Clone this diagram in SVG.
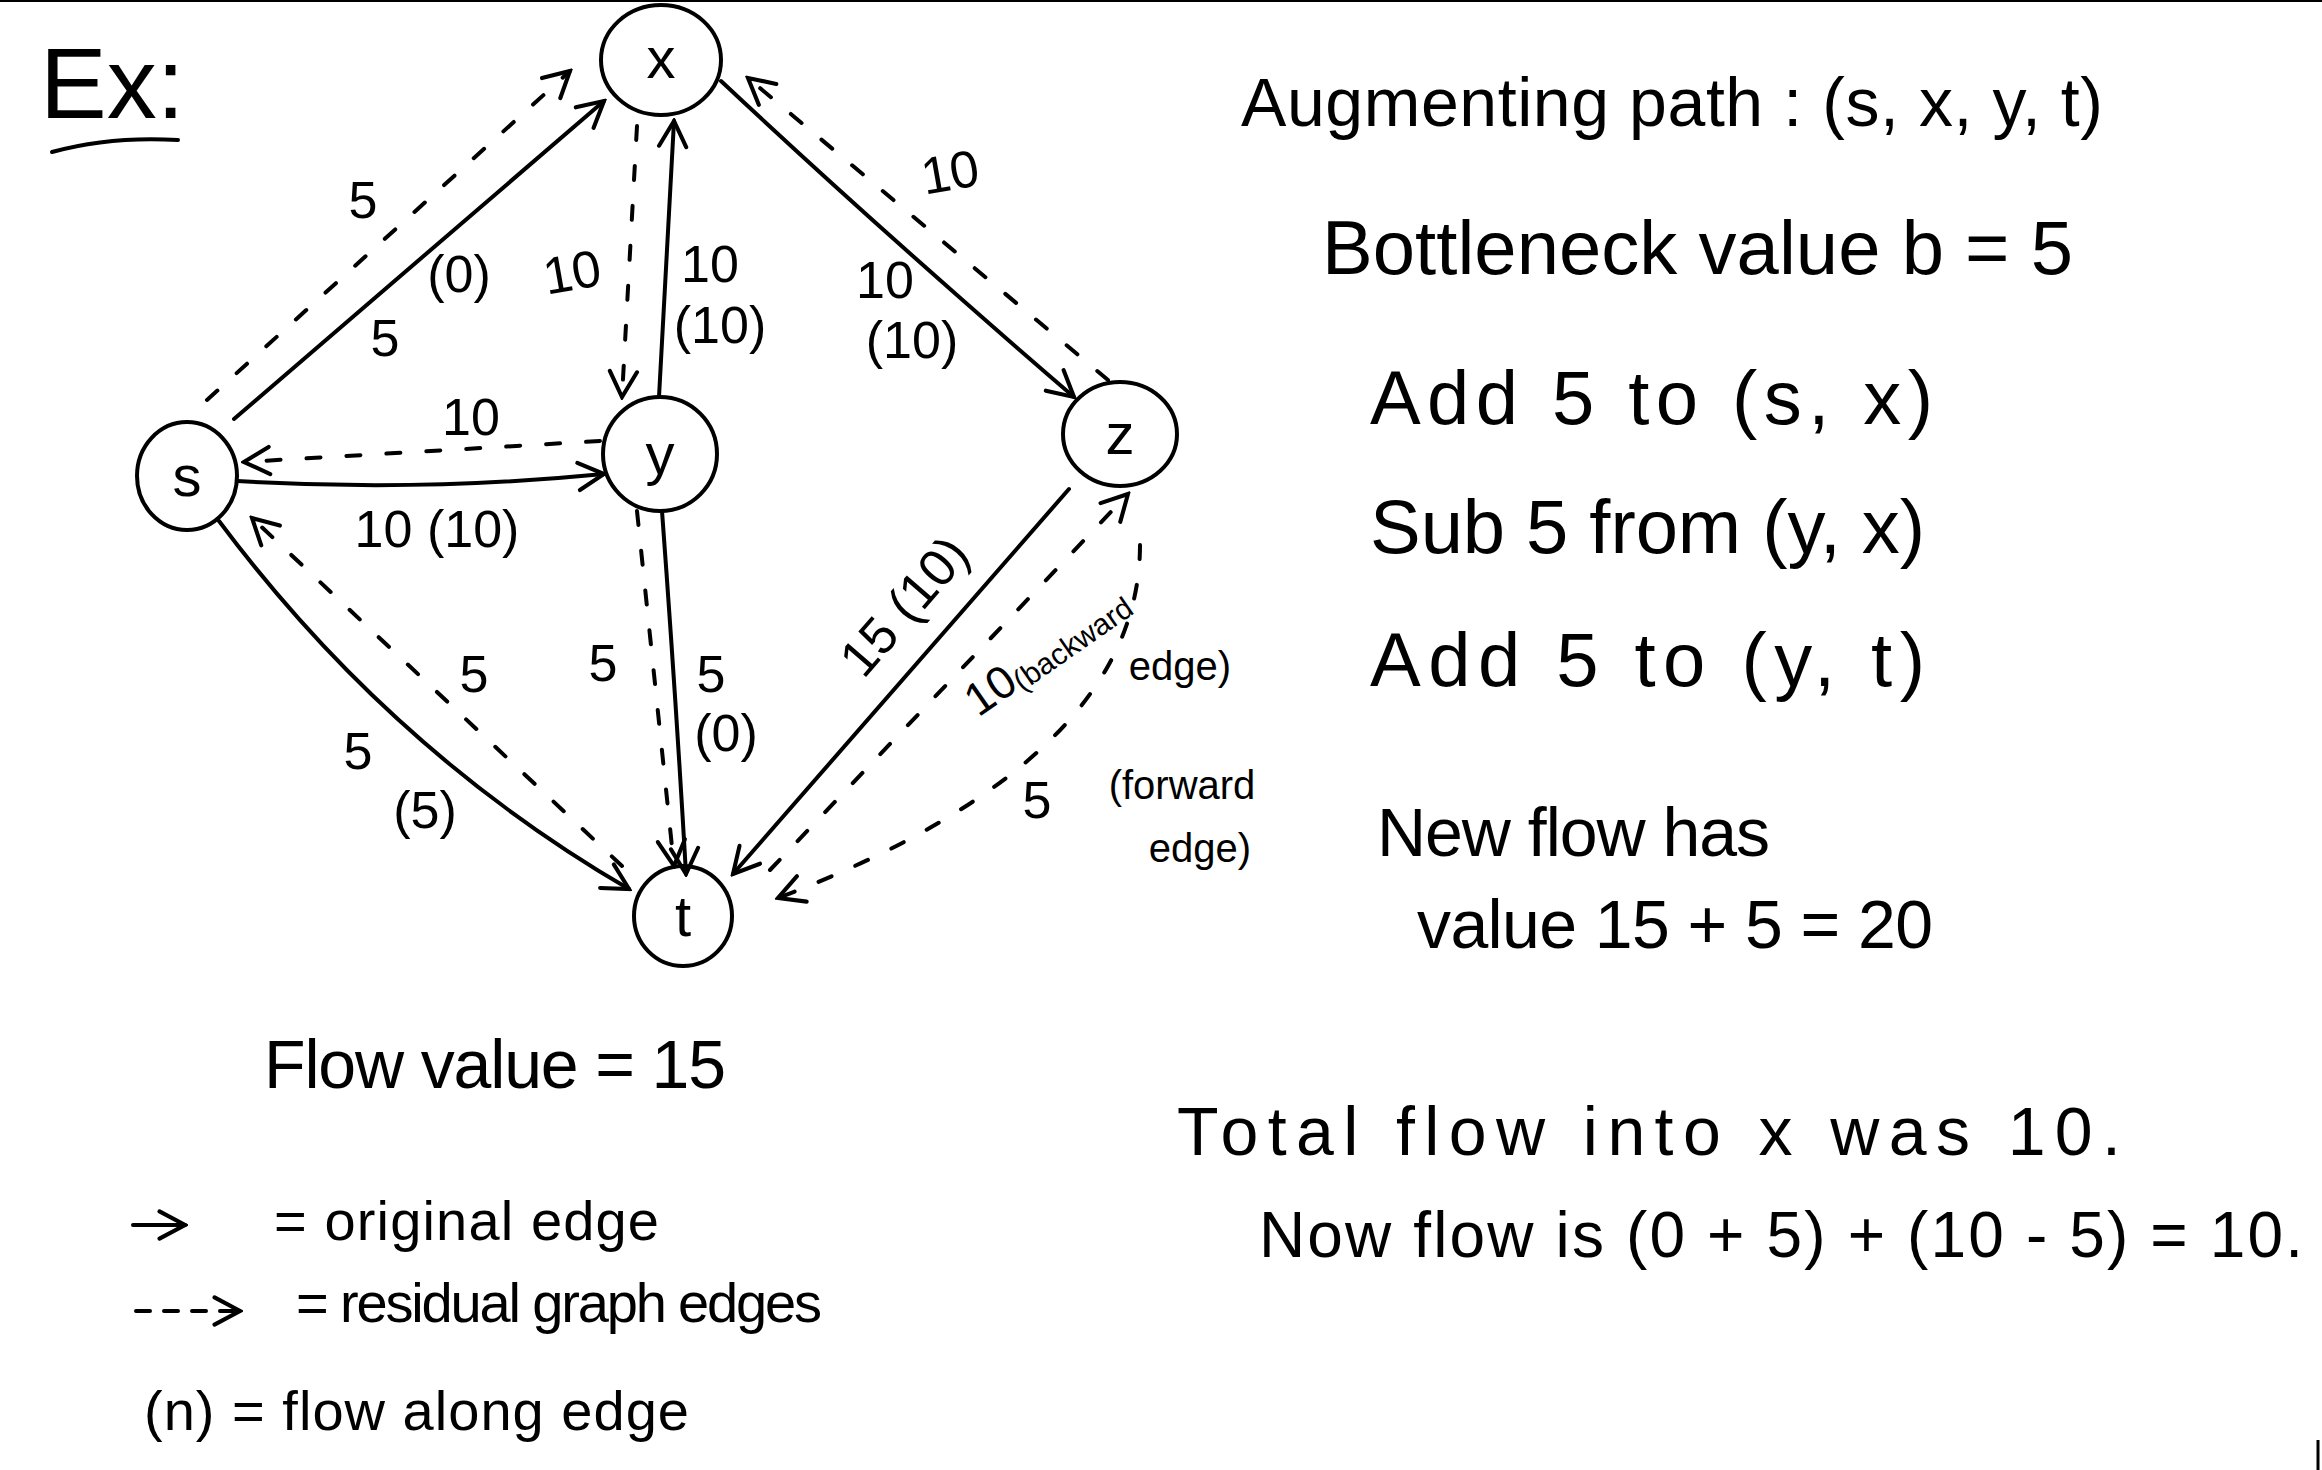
<svg xmlns="http://www.w3.org/2000/svg" width="2322" height="1470" viewBox="0 0 2322 1470">
<style>
text{font-family:"Liberation Sans","DejaVu Sans",sans-serif;fill:#000}
.node ellipse{fill:none;stroke:#000;stroke-width:4}
.nl{font-size:58px;text-anchor:middle}
.e{fill:none;stroke:#000;stroke-width:4;stroke-linecap:round}
.d{fill:none;stroke:#000;stroke-width:4;stroke-linecap:round;stroke-dasharray:14 26}
.lb{font-size:52px;text-anchor:middle}
.sm{font-size:40px;text-anchor:middle}
.t{font-size:68px}
.t2{font-size:76px}
.lg{font-size:56px}
</style>
<defs>
<marker id="ah" viewBox="0 0 20 20" refX="18" refY="10" markerWidth="34" markerHeight="34" markerUnits="userSpaceOnUse" orient="auto">
<path d="M3,2 L18,10 L3,18" fill="none" stroke="#000" stroke-width="2.4" stroke-linecap="round"/>
</marker>
</defs>
<rect width="2322" height="1470" fill="#fff"/>
<line x1="0" y1="1" x2="2322" y2="1" stroke="#000" stroke-width="2"/>
<line x1="2318" y1="1440" x2="2318" y2="1470" stroke="#000" stroke-width="3"/>

<!-- Title -->
<text x="40" y="118" font-size="100">Ex:</text>
<path d="M52,152 Q110,136 178,140" class="e"/>

<!-- Connectors -->
<g id="connectors">
<!-- solid original edges -->
<path class="e" d="M234,419 L604,101" marker-end="url(#ah)"/>
<path class="e" d="M659,397 L674,121" marker-end="url(#ah)"/>
<path class="e" d="M721,81 Q880,230 1074,397" marker-end="url(#ah)"/>
<path class="e" d="M237,481 Q420,492 604,474" marker-end="url(#ah)"/>
<path class="e" d="M662,511 Q676,700 686,874" marker-end="url(#ah)"/>
<path class="e" d="M219,521 Q390,750 629,889" marker-end="url(#ah)"/>
<path class="e" d="M1069,489 L733,874" marker-end="url(#ah)"/>
<!-- dashed residual edges -->
<path class="d" d="M207,400 L570,71" marker-end="url(#ah)"/>
<path class="d" d="M637,126 L622,397" marker-end="url(#ah)"/>
<path class="d" d="M1108,380 L748,78" marker-end="url(#ah)"/>
<path class="d" d="M600,441 L244,462" marker-end="url(#ah)"/>
<path class="d" d="M622,866 L252,518" marker-end="url(#ah)"/>
<path class="d" d="M637,511 L674,866" marker-end="url(#ah)"/>
<path class="d" d="M770,870 L1128,494" marker-end="url(#ah)"/>
<path class="d" d="M1140,545 Q1140,760 778,898" marker-end="url(#ah)"/>
</g>

<!-- Nodes -->
<g id="node-x" class="node"><ellipse cx="661" cy="60" rx="60" ry="55"/><text class="nl" x="661" y="78">x</text></g>
<g id="node-s" class="node"><ellipse cx="187" cy="476" rx="50" ry="54"/><text class="nl" x="187" y="496">s</text></g>
<g id="node-y" class="node"><ellipse cx="660" cy="454" rx="57" ry="57"/><text class="nl" x="660" y="474">y</text></g>
<g id="node-z" class="node"><ellipse cx="1120" cy="434" rx="57" ry="52"/><text class="nl" x="1120" y="454">z</text></g>
<g id="node-t" class="node"><ellipse cx="683" cy="916" rx="49" ry="50"/><text class="nl" x="683" y="936">t</text></g>

<!-- Edge labels -->
<g id="edge-labels">
<text class="lb" x="363" y="218">5</text>
<text class="lb" x="459" y="292">(0)</text>
<text class="lb" x="385" y="356">5</text>
<text class="lb" x="572" y="290" transform="rotate(-10 572 272)">10</text>
<text class="lb" x="710" y="282">10</text>
<text class="lb" x="720" y="343">(10)</text>
<text class="lb" x="950" y="190" transform="rotate(-10 950 172)">10</text>
<text class="lb" x="885" y="298">10</text>
<text class="lb" x="912" y="358">(10)</text>
<text class="lb" x="471" y="435">10</text>
<text class="lb" x="437" y="547">10 (10)</text>
<text class="lb" x="474" y="692">5</text>
<text class="lb" x="358" y="769">5</text>
<text class="lb" x="425" y="828">(5)</text>
<text class="lb" x="603" y="681">5</text>
<text class="lb" x="711" y="692">5</text>
<text class="lb" x="726" y="751">(0)</text>
<text class="lb" x="904" y="624" transform="rotate(-49 904 606)">15 (10)</text>
<text font-size="46" text-anchor="middle" x="990" y="706" transform="rotate(-35 990 690)">10</text>
<text font-size="30" x="1022" y="692" transform="rotate(-35 1022 692)">(backward</text>
<text class="sm" x="1180" y="680">edge)</text>
<text class="lb" x="1037" y="818">5</text>
<text class="sm" x="1182" y="799">(forward</text>
<text class="sm" x="1200" y="862">edge)</text>
</g>

<!-- Right side notes -->
<g id="notes">
<text class="t" x="1241" y="126" textLength="862" lengthAdjust="spacing">Augmenting path : (s, x, y, t)</text>
<text class="t2" x="1322" y="274" textLength="751" lengthAdjust="spacing">Bottleneck value b = 5</text>
<text class="t2" x="1370" y="424" textLength="563" lengthAdjust="spacing">Add 5 to (s, x)</text>
<text class="t2" x="1370" y="553" textLength="555" lengthAdjust="spacing">Sub 5 from (y, x)</text>
<text class="t2" x="1370" y="686" textLength="555" lengthAdjust="spacing">Add 5 to (y, t)</text>
<text class="t" x="1377" y="856" textLength="393" lengthAdjust="spacing">New flow has</text>
<text class="t" x="1417" y="948" textLength="516" lengthAdjust="spacing">value 15 + 5 = 20</text>
<text class="t" x="264" y="1088" textLength="462" lengthAdjust="spacing">Flow value = 15</text>
<text class="t" x="1177" y="1155" textLength="944" lengthAdjust="spacing">Total flow into x was 10.</text>
<text font-size="64" x="1259" y="1257" textLength="1044" lengthAdjust="spacing">Now flow is (0 + 5) + (10 - 5) = 10.</text>
</g>

<!-- Legend -->
<g id="legend">
<path class="e" d="M133,1225 L185,1225" marker-end="url(#ah)"/>
<text class="lg" x="274" y="1240" textLength="385" lengthAdjust="spacing">= original edge</text>
<path class="e" d="M136,1311 L240,1311" stroke-dasharray="14 14" marker-end="url(#ah)"/>
<text class="lg" x="296" y="1322" textLength="526" lengthAdjust="spacing">= residual graph edges</text>
<text class="lg" x="144" y="1430" textLength="545" lengthAdjust="spacing">(n) = flow along edge</text>
</g>
</svg>
